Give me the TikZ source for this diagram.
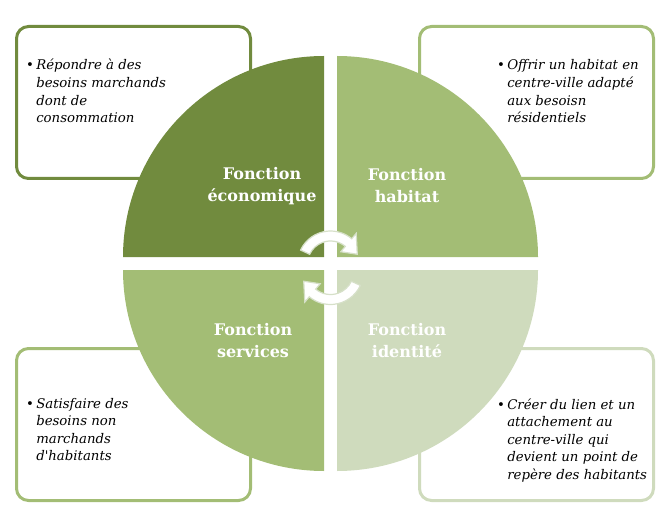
\documentclass[tikz,border=0pt]{standalone}
\usepackage{fontspec}
\setmainfont{DejaVu Serif}
\definecolor{darkolive}{RGB}{113,139,62}
\definecolor{midolive}{RGB}{163,189,117}
\definecolor{paleolive}{RGB}{207,219,189}
\definecolor{arrowline}{RGB}{214,224,200}
\newcommand\bulletlist[1]{\textbullet\,\begin{tabular}[t]{@{}l@{}}#1\end{tabular}}
% block arrow bent round a centre, #1 centre, #2 turn
\newcommand\turnarrow[2]{%
  \filldraw[fill=white,draw=arrowline,line width=1.2pt,shift={#1}]
    ({155+#2}:33) arc[start angle={155+#2},end angle={50+#2},radius=33]
    -- ({50+#2}:40) -- ({20+#2}:28.5) -- ({50+#2}:16)
    -- ({50+#2}:23) arc[start angle={50+#2},end angle={155+#2},radius=23] -- cycle;}
\begin{document}
\begin{tikzpicture}[x=1pt,y=1pt]
  \useasboundingbox (0,0) rectangle (660,509);

  \begin{scope}[every node/.style={rectangle,rounded corners=12pt,line width=3pt,fill=white,minimum width=234pt,minimum height=152pt}]
    \node[draw=darkolive] (boxeco) at (133.5,406.5) {};
    \node[draw=midolive]  (boxhab) at (536.5,406.5) {};
    \node[draw=midolive]  (boxser) at (133.5,84.5)  {};
    \node[draw=paleolive] (boxide) at (536.5,84.5)  {};
  \end{scope}

  \fill[darkolive] (324,252) -- ++(-201,0) arc[start angle=180,end angle=90,radius=201] -- cycle;
  \fill[midolive]  (337,252) -- ++(0,201)  arc[start angle=90,end angle=0,radius=201] -- cycle;
  \fill[midolive]  (324,239) -- ++(0,-201) arc[start angle=270,end angle=180,radius=201] -- cycle;
  \fill[paleolive] (337,239) -- ++(201,0)  arc[start angle=0,end angle=-90,radius=201] -- cycle;

  \begin{scope}[every node/.style={text=white,align=center,font=\bfseries\fontsize{16}{22}\selectfont}]
    \node (eco) at (262,323) {Fonction\\économique};
    \node (hab) at (407,323) {Fonction\\habitat};
    \node (ser) at (253,168) {Fonction\\services};
    \node (ide) at (407,168) {Fonction\\identité};
  \end{scope}

  \turnarrow{(330.5,245)}{0}
  \turnarrow{(330.5,237.5)}{180}

  \begin{scope}[every node/.style={anchor=base west,inner sep=0pt,font=\itshape\fontsize{13.3}{17.6}\selectfont}]
    \node (texteco) at (26,439)  {\bulletlist{Répondre à des\\besoins marchands\\dont de\\consommation}};
    \node (texthab) at (497,439) {\bulletlist{Offrir un habitat en\\centre-ville adapté\\aux besoisn\\résidentiels}};
    \node (textser) at (26,101)  {\bulletlist{Satisfaire des\\besoins non\\marchands\\d\textquotesingle habitants}};
    \node (textide) at (497,100) {\bulletlist{Créer du lien et un\\attachement au\\centre-ville qui\\devient un point de\\repère des habitants}};
  \end{scope}

\end{tikzpicture}
\end{document}
